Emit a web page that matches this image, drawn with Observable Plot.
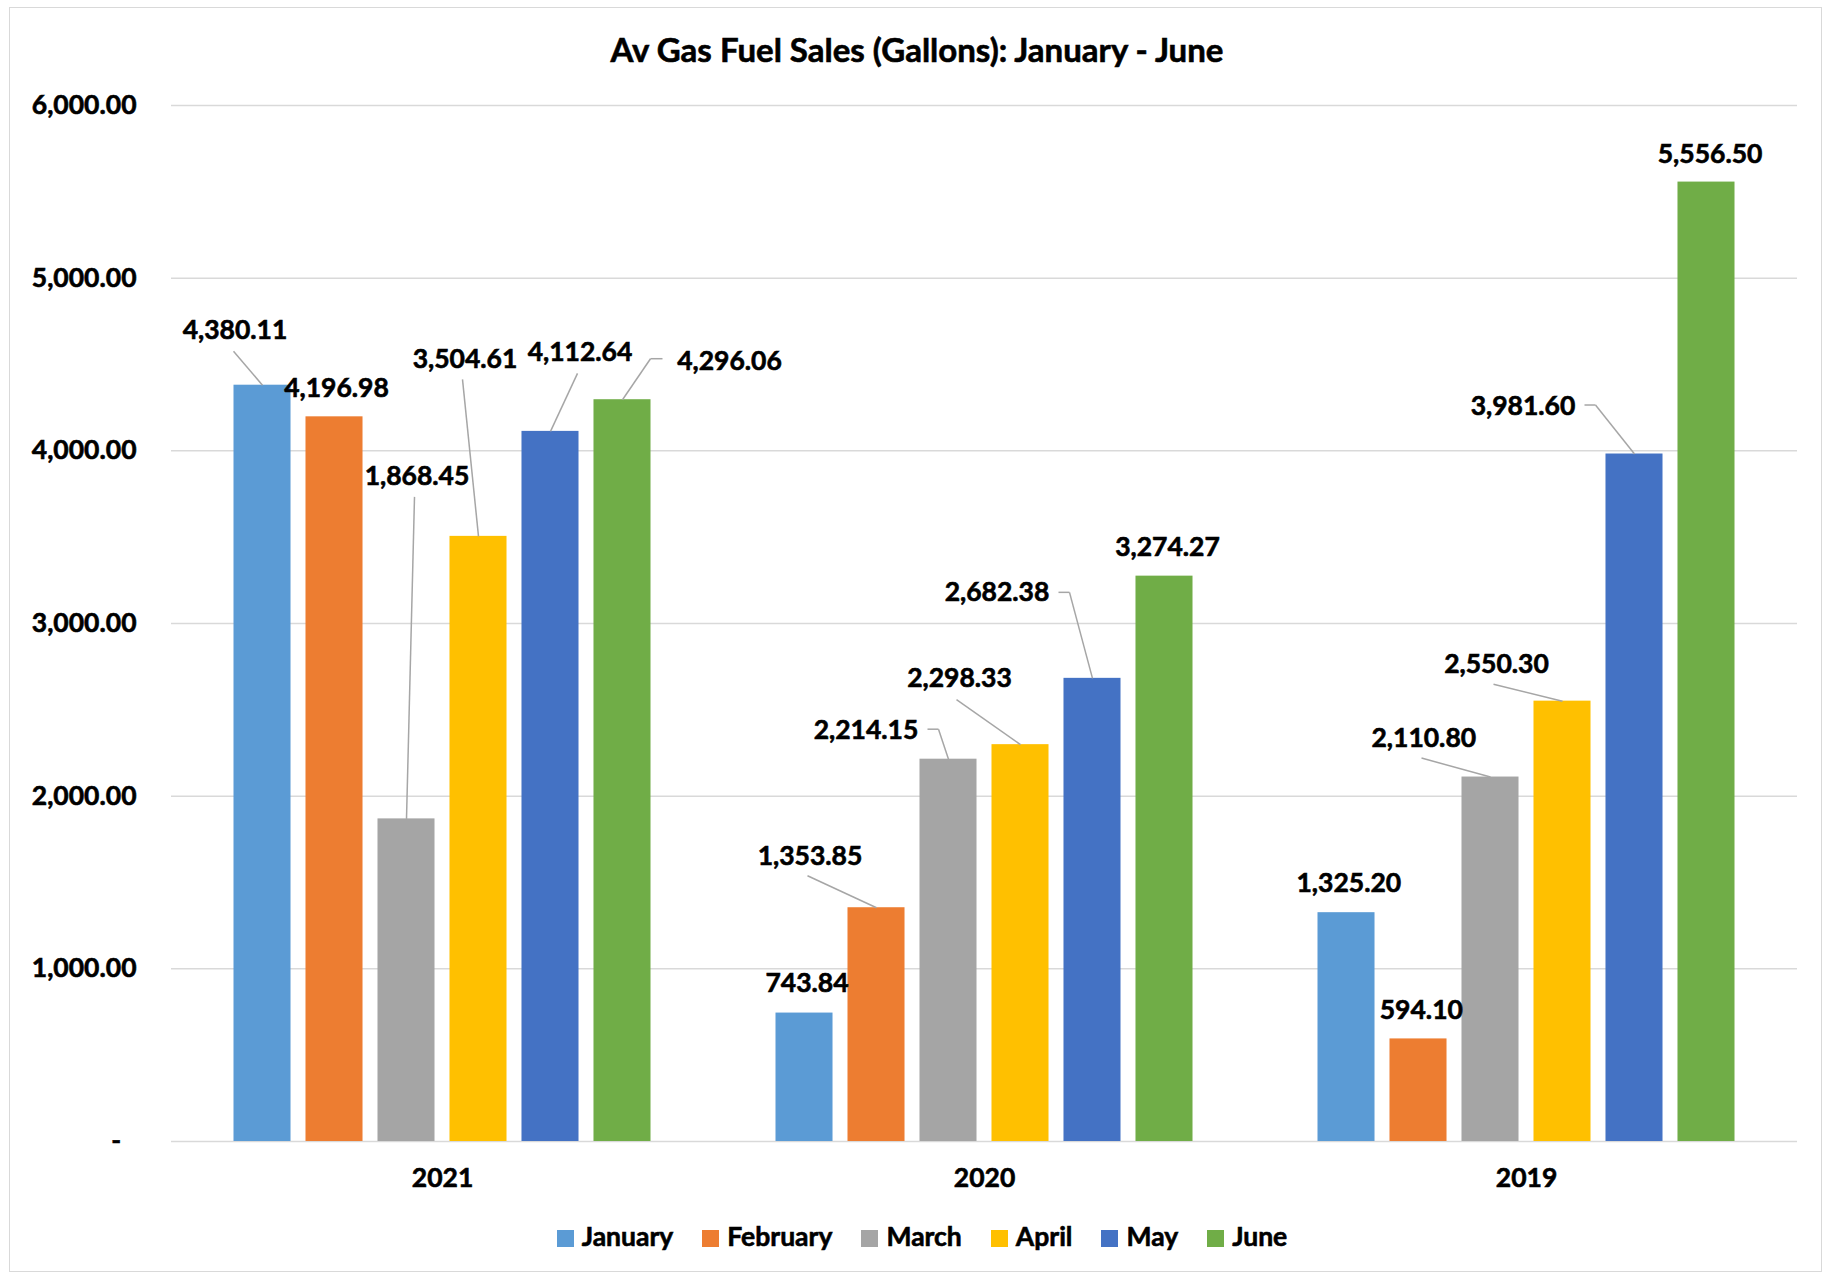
<!DOCTYPE html>
<html>
<head>
<meta charset="utf-8">
<script src="https://cdn.jsdelivr.net/npm/d3@7"></script>
<script src="https://cdn.jsdelivr.net/npm/@observablehq/plot@0.6"></script>
<style>
  html, body { margin: 0; padding: 0; background: #fff; overflow: hidden; }
  body { width: 1828px; height: 1276px; position: relative; font-family: Lato, "Open Sans", sans-serif; color: #000; }
  #frame { position: absolute; left: 9px; top: 7px; width: 1813px; height: 1265px; border: 1px solid #d9d9d9; box-sizing: border-box; }
  #title { position: absolute; left: 0; width: 1834px; top: 30px; text-align: center; font: bold 33px/38px Lato, sans-serif; -webkit-text-stroke: 0.6px #000; }
  #chart { position: absolute; left: 0; top: 80px; }
  #chart text { stroke: #000; stroke-width: 0.6px; }
  #legend { position: absolute; left: 16px; width: 1812px; top: 1221px; display: flex; justify-content: center; gap: 29px; font: bold 26.5px/30px Lato, sans-serif; }
  #legend span { -webkit-text-stroke: 0.6px #000; }
  .item { display: flex; align-items: flex-start; }
  .swatch { width: 17px; height: 17px; margin-top: 9px; margin-right: 8px; }
</style>
</head>
<body>
<div id="frame"></div>
<div id="title">Av Gas Fuel Sales (Gallons): January - June</div>
<div id="chart"></div>
<div id="legend"></div>
<script>
// Monthly Av Gas sales, in gallons
const months = ["January", "February", "March", "April", "May", "June"];
const years = ["2021", "2020", "2019"];
const sales2021 = [4380.11, 4196.98, 1868.45, 3504.61, 4112.64, 4296.06];
const sales2020 = [743.84, 1353.85, 2214.15, 2298.33, 2682.38, 3274.27];
const sales2019 = [1325.20, 594.10, 2110.80, 2550.30, 3981.60, 5556.50];
const yTicks = [0, 1000, 2000, 3000, 4000, 5000, 6000];
const monthColors = ["#5B9BD5", "#ED7D31", "#A5A5A5", "#FFC000", "#4472C4", "#70AD47"];

// Where each value label sits, as a pixel offset from the top centre of its bar
const labelShift2021 = [[-27.5, -55], [2, -28], [10.5, -342], [-13.5, -177], [29.5, -79], [107, -38.5]];
const labelShift2020 = [[2.5, -29.5], [-66.5, -51], [-82.5, -29], [-61, -66], [-95.5, -85.5], [3, -28.5]];
const labelShift2019 = [[2.3, -29], [2.8, -28], [-66.7, -39], [-66, -36.5], [-111.5, -47.5], [3.6, -28]];

// Leader lines from moved labels back to their bars (vertices relative to the bar's top centre)
const leaderLines = [
  {year: "2021", month: "January", path: [[-29, -34], [0, 0]]},
  {year: "2021", month: "March", path: [[8, -322], [0, 0]]},
  {year: "2021", month: "April", path: [[-16, -157], [0, 0]]},
  {year: "2021", month: "May", path: [[27, -58], [0, 0]]},
  {year: "2021", month: "June", path: [[40, -41], [28, -41], [0, 0]]},
  {year: "2020", month: "February", path: [[-69, -32], [0, 0]]},
  {year: "2020", month: "March", path: [[-21, -30], [-10, -30], [0, 0]]},
  {year: "2020", month: "April", path: [[-64, -45], [0, 0]]},
  {year: "2020", month: "May", path: [[-34, -86], [-23, -86], [0, 0]]},
  {year: "2019", month: "March", path: [[-69, -19], [0, 0]]},
  {year: "2019", month: "April", path: [[-69, -17], [0, 0]]},
  {year: "2019", month: "May", path: [[-50, -49], [-39, -49], [0, 0]]}
];

const salesByYear = {"2021": sales2021, "2020": sales2020, "2019": sales2019};
const shiftByYear = {"2021": labelShift2021, "2020": labelShift2020, "2019": labelShift2019};

const rows = years.flatMap((year) =>
  months.map((month, i) => ({year, month, value: salesByYear[year][i], shift: shiftByYear[year][i]}))
);

const segments = leaderLines.flatMap(({year, month, path}) => {
  const value = salesByYear[year][months.indexOf(month)];
  return d3.pairs(path).map(([from, to]) => ({year, month, value, from, to}));
});

const fmt = d3.format(",.2f");

// Render helper: nudges scaled positions by per-datum pixel offsets
function nudge(data, spec) {
  return function (index, scales, values, dimensions, context, next) {
    const v = Object.create(values);
    for (const [channel, get] of spec) {
      v[channel] = Array.from(values[channel], (p, i) => p + get(data[i]));
    }
    return next(index, scales, v, dimensions, context);
  };
}

const chart = Plot.plot({
  width: 1828,
  height: 1130,
  marginLeft: 171,
  marginRight: 31,
  marginTop: 25,
  marginBottom: 69,
  style: {fontFamily: "Lato, sans-serif", fontSize: "26.5px", fontWeight: "bold", color: "#000", background: "transparent"},
  fx: {domain: years, padding: 0, round: false, label: null},
  x: {domain: months, paddingInner: 0.208, paddingOuter: 0.868, round: false, axis: null},
  y: {domain: [0, 6000], label: null},
  color: {domain: months, range: monthColors},
  marks: [
    Plot.gridY(yTicks, {stroke: "#d9d9d9", strokeOpacity: 1, strokeWidth: 1.5}),
    Plot.axisY(yTicks, {
      tickSize: 0,
      tickPadding: 35,
      label: null,
      fill: "#000",
      tickFormat: (d) => (d === 0 ? "-\u2007" : fmt(d))
    }),
    Plot.axisFx({anchor: "bottom", tickSize: 0, tickPadding: 27, label: null, fill: "#000"}),
    Plot.barY(rows, {fx: "year", x: "month", y: "value", fill: "month"}),
    Plot.link(segments, {
      fx: "year",
      x1: "month",
      x2: "month",
      y1: "value",
      y2: "value",
      stroke: "#a6a6a6",
      strokeWidth: 1.5,
      render: nudge(segments, [
        ["x1", (d) => d.from[0]],
        ["y1", (d) => d.from[1]],
        ["x2", (d) => d.to[0]],
        ["y2", (d) => d.to[1]]
      ])
    }),
    Plot.text(rows, {
      fx: "year",
      x: "month",
      y: "value",
      text: (d) => fmt(d.value),
      fill: "#000",
      fontSize: 26.5,
      fontWeight: "bold",
      render: nudge(rows, [
        ["x", (d) => d.shift[0]],
        ["y", (d) => d.shift[1]]
      ])
    })
  ]
});

document.getElementById("chart").append(chart);

// Legend row below the chart
const legend = d3.select("#legend");
months.forEach((m, i) => {
  const item = legend.append("div").attr("class", "item");
  item.append("div").attr("class", "swatch").style("background", monthColors[i]);
  item.append("span").text(m);
});
</script>
</body>
</html>
